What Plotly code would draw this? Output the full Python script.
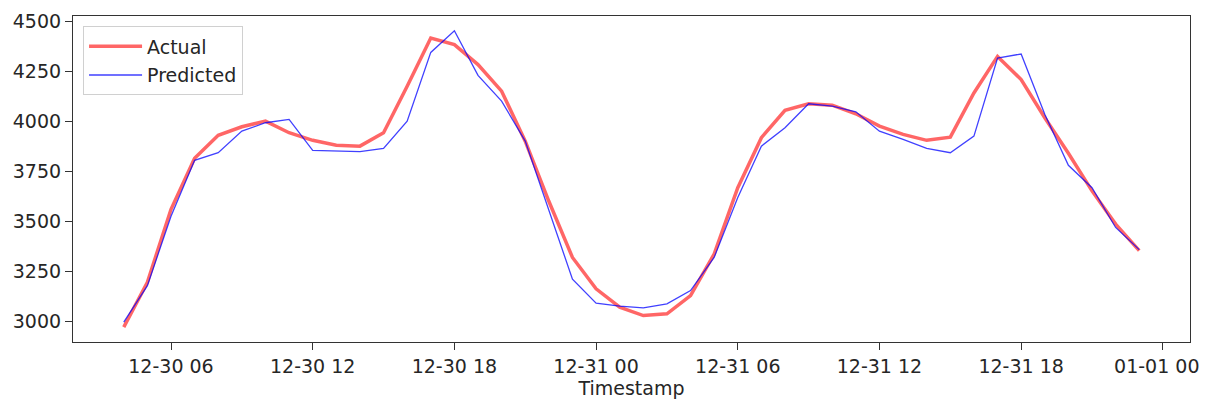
import pandas as pd
import plotly.graph_objects as go

timestamps = list(pd.date_range("2018-12-30 04:00", "2018-12-31 23:00", freq="h"))

actual = [2970, 3195, 3560, 3815, 3930, 3973, 4001, 3943, 3905, 3880, 3876, 3943,
          4176, 4417, 4384, 4284, 4151, 3901, 3600, 3319, 3162, 3070, 3028, 3037,
          3128, 3336, 3668, 3918, 4055, 4088, 4081, 4038, 3976, 3935, 3905, 3921,
          4142, 4325, 4209, 4018, 3840, 3652, 3486, 3353]

predicted = [2995, 3178, 3525, 3805, 3843, 3951, 3993, 4010, 3855, 3851, 3848, 3865,
             4001, 4345, 4453, 4230, 4101, 3901, 3555, 3210, 3090, 3075, 3067, 3087,
             3153, 3319, 3619, 3876, 3968, 4088, 4076, 4048, 3951, 3910, 3865, 3843,
             3926, 4317, 4337, 4035, 3780, 3668, 3469, 3358]

x_tick_vals = list(pd.date_range("2018-12-30 06:00", "2019-01-01 00:00", freq="6h"))
x_tick_text = ["12-30 06", "12-30 12", "12-30 18", "12-31 00",
               "12-31 06", "12-31 12", "12-31 18", "01-01 00"]

y_ticks = [3000, 3250, 3500, 3750, 4000, 4250, 4500]

# matplotlib-like 5% margins
t0, t1 = timestamps[0], timestamps[-1]
span = t1 - t0
x_range = [t0 - span * 0.05, t1 + span * 0.05]
lo = min(actual + predicted)
hi = max(actual + predicted)
pad = (hi - lo) * 0.05
y_range = [lo - pad, hi + pad]

# last label sits at the page edge: pad it so it stays fully visible
x_tick_labels = x_tick_text[:-1] + [x_tick_text[-1] + "\u00a0\u00a0"]

FONT = "DejaVu Sans"
FS = 19
AX = "#333333"

fig = go.Figure()
fig.add_trace(go.Scatter(
    x=timestamps, y=actual, mode="lines", name="Actual",
    line=dict(color="rgba(255,0,0,0.6)", width=3.5),
    legendgroup="a",
))
fig.add_trace(go.Scatter(
    x=timestamps, y=predicted, mode="lines", name="Predicted",
    line=dict(color="rgba(0,0,255,0.75)", width=1.3),
    legendgroup="b",
))

fig.update_layout(
    width=1202, height=391,
    margin=dict(l=65, r=20, t=8, b=57, autoexpand=False),
    paper_bgcolor="white", plot_bgcolor="white",
    font=dict(family=FONT, size=FS, color="#262626"),
    showlegend=True,
    legend=dict(
        x=0.009, y=0.968, xanchor="left", yanchor="top",
        bgcolor="rgba(255,255,255,0.8)", bordercolor="#d0d0d0", borderwidth=1,
        font=dict(family=FONT, size=FS, color="#262626"),
        tracegroupgap=1, itemwidth=53,
    ),
    xaxis=dict(
        range=x_range, type="date", automargin=False,
        tickvals=x_tick_vals, ticktext=x_tick_labels,
        ticklabeloverflow="allow",
        showgrid=False, zeroline=False,
        showline=True, linecolor=AX, linewidth=1.2, mirror=True,
        ticks="outside", ticklen=7, tickwidth=1.2, tickcolor=AX,
        title=dict(text="Timestamp", font=dict(family=FONT, size=FS), standoff=7),
    ),
    yaxis=dict(
        range=y_range, tickvals=y_ticks, ticktext=[str(v) for v in y_ticks],
        automargin=False,
        showgrid=False, zeroline=False,
        showline=True, linecolor=AX, linewidth=1.2, mirror=True,
        ticks="outside", ticklen=7, tickwidth=1.2, tickcolor=AX,
    ),
)

fig.write_html("out.html")
